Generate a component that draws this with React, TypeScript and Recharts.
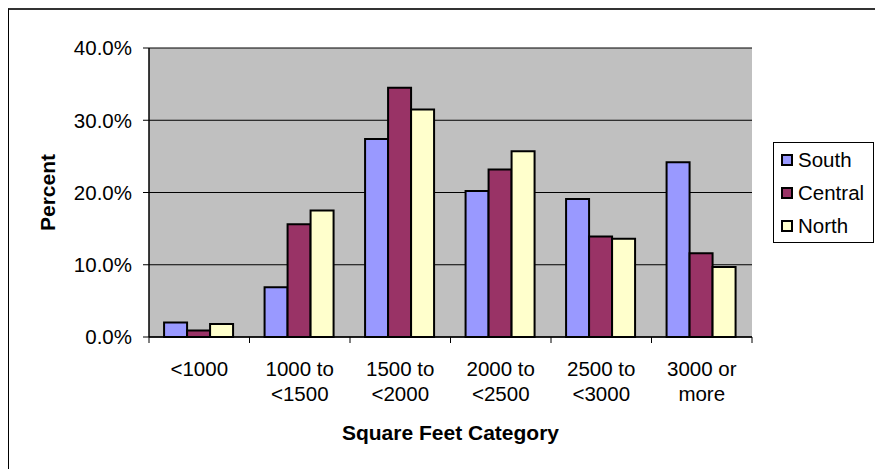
import React from "react";
import { BarChart, Bar, XAxis, YAxis, CartesianGrid } from "recharts";

const categories = [
  "<1000",
  "1000 to\n<1500",
  "1500 to\n<2000",
  "2000 to\n<2500",
  "2500 to\n<3000",
  "3000 or\nmore",
];
const south = [2.0, 6.9, 27.4, 20.2, 19.1, 24.2];
const central = [0.9, 15.6, 34.5, 23.2, 13.9, 11.6];
const north = [1.8, 17.5, 31.5, 25.7, 13.6, 9.7];
const yTicks = [0, 10, 20, 30, 40];

const seriesNames = ["South", "Central", "North"];
const seriesColors = ["#9999FF", "#993366", "#FFFFCC"];
const seriesValues = [south, central, north];

const data = categories.map((c, i) => {
  const row: Record<string, any> = { category: c };
  seriesNames.forEach((n, s) => {
    row[n] = seriesValues[s][i];
  });
  return row;
});

const FONT = "Arial, 'Liberation Sans', sans-serif";
const W = 866;
const H = 459;
const PLOT_LEFT = 140;
const PLOT_RIGHT = 743;
const PLOT_TOP = 38;
const PLOT_BOTTOM = 327;
const BAND = (PLOT_RIGHT - PLOT_LEFT) / categories.length;

const XTick = (props: any) => {
  const { x, payload, index } = props;
  const half =
    payload && typeof payload.offset === "number" && payload.offset > 0
      ? payload.offset
      : BAND / 2;
  const lines = String(payload.value).split("\n");
  return (
    <g>
      <line x1={x - half} x2={x - half} y1={PLOT_BOTTOM} y2={PLOT_BOTTOM + 6} stroke="#000" strokeWidth={1} />
      {index === categories.length - 1 && (
        <line x1={x + half} x2={x + half} y1={PLOT_BOTTOM} y2={PLOT_BOTTOM + 6} stroke="#000" strokeWidth={1} />
      )}
      <text textAnchor="middle" fill="#000" fontSize={20.5} fontFamily={FONT}>
        {lines.map((l, i) => (
          <tspan key={i} x={x} y={PLOT_BOTTOM + 38.7 + i * 25.3}>
            {l}
          </tspan>
        ))}
      </text>
    </g>
  );
};

export default function App() {
  return (
    <div
      style={{
        position: "relative",
        width: W,
        height: H,
        borderLeft: "1px solid #000",
        borderTop: "2px solid #333",
        background: "#fff",
        overflow: "hidden",
      }}
    >
      <style>{"html,body{overflow:hidden}body{margin:8px 0 0 8px}"}</style>
      <BarChart
        width={W}
        height={H}
        data={data}
        margin={{ top: PLOT_TOP, right: W - PLOT_RIGHT, bottom: 0, left: 0 }}
        barCategoryGap="15%"
        barGap={0}
      >
        <CartesianGrid
          vertical={false}
          stroke="#000"
          strokeWidth={1}
          fill="#C0C0C0"
          fillOpacity={1}
        />
        <XAxis
          dataKey="category"
          height={H - PLOT_BOTTOM}
          interval={0}
          tickLine={false}
          axisLine={{ stroke: "#000", strokeWidth: 1.5 }}
          tick={<XTick />}
          label={{
            content: (p: any) => {
              const vb = p.viewBox || { x: PLOT_LEFT, y: PLOT_BOTTOM, width: PLOT_RIGHT - PLOT_LEFT };
              return (
                <text
                  x={vb.x + vb.width / 2}
                  y={vb.y + 103}
                  textAnchor="middle"
                  fontSize={21}
                  fontWeight="bold"
                  fontFamily={FONT}
                  fill="#000"
                >
                  Square Feet Category
                </text>
              );
            },
          }}
        />
        <XAxis
          xAxisId="top"
          dataKey="category"
          orientation="top"
          height={0}
          tick={false}
          tickLine={false}
          axisLine={{ stroke: "#808080", strokeWidth: 2 }}
        />
        <YAxis
          width={PLOT_LEFT}
          domain={[0, 40]}
          ticks={yTicks}
          interval={0}
          tickSize={6}
          tickMargin={11}
          tickFormatter={(v: number) => `${v.toFixed(1)}%`}
          tick={{ fill: "#000", fontSize: 20.5, fontFamily: FONT }}
          tickLine={{ stroke: "#000" }}
          axisLine={{ stroke: "#000", strokeWidth: 1.5 }}
          label={{
            content: (p: any) => {
              const vb = p.viewBox || { x: 0, y: PLOT_TOP, height: PLOT_BOTTOM - PLOT_TOP };
              const cx = 46;
              const cy = vb.y + vb.height / 2;
              return (
                <text
                  x={cx}
                  y={cy}
                  transform={`rotate(-90, ${cx}, ${cy})`}
                  textAnchor="middle"
                  fontSize={21}
                  fontWeight="bold"
                  fontFamily={FONT}
                  fill="#000"
                >
                  Percent
                </text>
              );
            },
          }}
        />
        <YAxis
          yAxisId="right"
          orientation="right"
          width={0}
          domain={[0, 40]}
          tick={false}
          tickLine={false}
          axisLine={{ stroke: "#808080", strokeWidth: 2 }}
        />
        {seriesNames.map((n, s) => (
          <Bar
            key={n}
            dataKey={n}
            fill={seriesColors[s]}
            stroke="#000"
            strokeWidth={2}
            isAnimationActive={false}
          />
        ))}
      </BarChart>
      <div
        style={{
          position: "absolute",
          left: 764,
          top: 132,
          width: 101,
          height: 101,
          boxSizing: "border-box",
          border: "1px solid #000",
          fontFamily: FONT,
          fontSize: 20.5,
          color: "#000",
        }}
      >
        {seriesNames.map((n, s) => (
          <div
            key={n}
            style={{ height: 33, display: "flex", alignItems: "center", paddingLeft: 7 }}
          >
            <div
              style={{
                width: 12,
                height: 12,
                boxSizing: "border-box",
                border: "2px solid #000",
                background: seriesColors[s],
                marginRight: 5,
              }}
            />
            <span style={{ lineHeight: "33px", whiteSpace: "nowrap" }}>{n}</span>
          </div>
        ))}
      </div>
    </div>
  );
}
